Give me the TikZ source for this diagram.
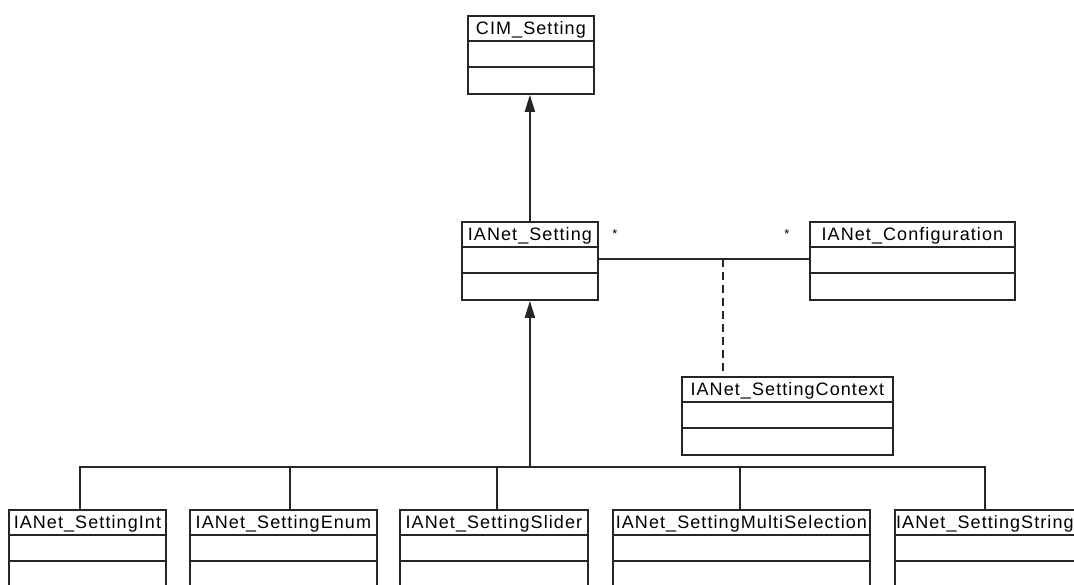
\documentclass[tikz,border=0pt]{standalone}
\usepackage{fontspec}
\setmainfont{Liberation Sans}
\newfontfamily\titlefont[LetterSpace=6]{Liberation Sans}
\usetikzlibrary{arrows.meta}
\tikzset{
  umlline/.style={line width=1.8pt, draw=black!85},
  classbox/.style={umlline, rectangle, anchor=north west, minimum height=78pt, inner sep=0pt},
  classtitle/.style={anchor=base, font=\titlefont\fontsize{18}{20}\selectfont, inner sep=0pt},
  inherit/.style={umlline, -{Triangle[width=10pt,length=17pt]}},
  assoc/.style={umlline},
  ctxlink/.style={umlline, dash pattern=on 8pt off 5pt},
  mult/.style={anchor=base, font=\fontsize{13}{14}\selectfont, inner sep=0pt}
}
% name, left x, top y, width, title
\newcommand\umlclass[5]{%
  \node[classbox, minimum width=#4pt] (#1) at (#2,#3) {};
  \node[classtitle] (#1-title) at ([yshift=-19.5pt]#1.north) {#5};
  \draw[umlline] ([yshift=-26pt]#1.north west) -- ([yshift=-26pt]#1.north east);
  \draw[umlline] ([yshift=-52pt]#1.north west) -- ([yshift=-52pt]#1.north east);
}
\begin{document}
\begin{tikzpicture}[x=1pt,y=-1pt]
\clip (0,0) rectangle (1074,584);

% classes
\umlclass{cim}{467}{15}{126}{CIM\_Setting}
\umlclass{setting}{461}{221}{136}{IANet\_Setting}
\umlclass{config}{809}{221}{205}{IANet\_Configuration}
\umlclass{ctx}{681}{376}{211}{IANet\_SettingContext}
\umlclass{sint}{8}{509}{157}{IANet\_SettingInt}
\umlclass{senum}{189}{509}{187}{IANet\_SettingEnum}
\umlclass{sslider}{399}{509}{188}{IANet\_SettingSlider}
\umlclass{smulti}{612}{509}{257}{IANet\_SettingMultiSelection}
\umlclass{sstring}{894}{509}{180}{IANet\_SettingString}

% generalization to CIM_Setting
\draw[inherit] (setting.north) -- (setting.north |- cim.south);

% generalization tree of the setting kinds
\coordinate (bus) at (setting.south |- 0,467);
\draw[umlline] ([xshift=-7.5pt]sint.north) |- (bus);
\draw[umlline] ([xshift=6.5pt]senum.north) |- (bus);
\draw[umlline] ([xshift=3pt]sslider.north) |- (bus);
\draw[umlline] ([xshift=-1.5pt]smulti.north) |- (bus);
\draw[umlline] (sstring.north) |- (bus);
\draw[inherit] (bus) -- (setting.south);

% association with its class
\coordinate (sa) at ([yshift=-38pt]setting.north east);
\coordinate (ca) at ([yshift=-38pt]config.north west);
\draw[assoc] (sa) -- (ca);
\coordinate (mid) at (723,259);
\draw[ctxlink] (mid) -- (mid |- ctx.north);

% multiplicities
\node[mult] (m1) at (615,238) {*};
\node[mult] (m2) at (787,238) {*};
\end{tikzpicture}
\end{document}
